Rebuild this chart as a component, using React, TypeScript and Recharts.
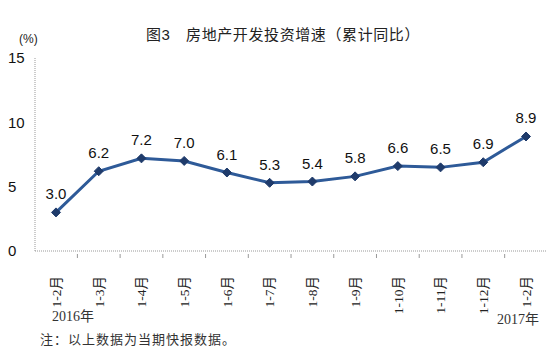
import { LineChart, Line, XAxis, YAxis, LabelList } from "recharts";

const months = ["1-2月", "1-3月", "1-4月", "1-5月", "1-6月", "1-7月", "1-8月", "1-9月", "1-10月", "1-11月", "1-12月", "1-2月"];
const growth = [3.0, 6.2, 7.2, 7.0, 6.1, 5.3, 5.4, 5.8, 6.6, 6.5, 6.9, 8.9];
const yTicks = [0, 5, 10, 15];

const data = months.map((m, i) => ({ key: `${i}`, month: m, value: growth[i] }));

const serif = "'Liberation Serif', 'Noto Sans CJK SC', serif";
const sans = "Arial, 'Liberation Sans', 'Noto Sans CJK SC', sans-serif";

const STEP = 42.67;

function MonthTick(props: any) {
  const { x, y, payload, index } = props;
  const label = months[Number(payload.value)];
  const ly = y + 17;
  return (
    <g>
      {index > 0 && (
        <line x1={x - STEP / 2} x2={x - STEP / 2} y1={y - 1} y2={y - 5} stroke="#999" strokeWidth={1} />
      )}
      <text
        x={x}
        y={ly}
        transform={`rotate(-90, ${x}, ${ly})`}
        textAnchor="end"
        dy="0.36em"
        fontSize={13.5}
        fontFamily={serif}
        fill="#222"
      >
        {label}
      </text>
    </g>
  );
}

function ValueTick(props: any) {
  const { y, payload } = props;
  return (
    <text x={8} y={y} dy="0.36em" textAnchor="start" fontSize={15} fontFamily={sans} fill="#111">
      {payload.value}
    </text>
  );
}

function Diamond(props: any) {
  const { cx, cy } = props;
  if (cx == null || cy == null) return null;
  const r = 4.5;
  return (
    <path
      d={`M${cx},${cy - r}L${cx + r},${cy}L${cx},${cy + r}L${cx - r},${cy}Z`}
      fill="#1F3B6B"
      stroke="#1F3B6B"
      strokeWidth={1}
    />
  );
}

export default function App() {
  return (
    <div style={{ position: "absolute", left: 0, top: 0, width: 560, height: 355, background: "#fff" }}>
      <div
        style={{
          position: "absolute",
          left: 0,
          width: 566,
          top: 23,
          textAlign: "center",
          fontFamily: sans,
          fontSize: 15,
          letterSpacing: 0.6,
          color: "#222",
          whiteSpace: "pre",
        }}
      >
        {"图3　房地产开发投资增速（累计同比）"}
      </div>
      <div style={{ position: "absolute", left: 19, top: 32, fontFamily: sans, fontSize: 12, color: "#222" }}>(%)</div>
      <LineChart width={560} height={355} data={data} margin={{ top: 58, right: 13, bottom: 0, left: 0 }}>
        <XAxis
          dataKey="key"
          height={104}
          padding={{ left: 21, right: 21 }}
          axisLine={{ stroke: "#999", strokeDasharray: "1 1" }}
          tickLine={false}
          tick={<MonthTick />}
          interval={0}
        />
        <YAxis
          width={35}
          domain={[0, 15]}
          ticks={yTicks}
          axisLine={{ stroke: "#999", strokeDasharray: "1 1" }}
          tickLine={false}
          tick={<ValueTick />}
        />
        <Line
          dataKey="value"
          stroke="#2E5A98"
          strokeWidth={3}
          dot={<Diamond />}
          activeDot={false}
          isAnimationActive={false}
        >
          <LabelList
            dataKey="value"
            position="top"
            offset={13}
            formatter={(v: any) => Number(v).toFixed(1)}
            style={{ fontSize: 15, fontFamily: sans, fill: "#111" }}
          />
        </Line>
      </LineChart>
      <div style={{ position: "absolute", left: 52, top: 305, fontFamily: serif, fontSize: 14, color: "#333" }}>2016年</div>
      <div style={{ position: "absolute", left: 497, top: 308, fontFamily: serif, fontSize: 14, color: "#333" }}>2017年</div>
      <div
        style={{
          position: "absolute",
          left: 40,
          top: 329,
          fontFamily: serif,
          fontSize: 13,
          letterSpacing: 1,
          color: "#333",
          whiteSpace: "pre",
        }}
      >
        注：以上数据为当期快报数据。
      </div>
    </div>
  );
}
